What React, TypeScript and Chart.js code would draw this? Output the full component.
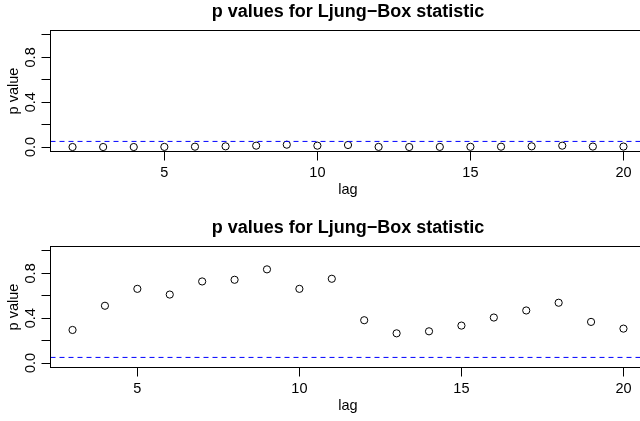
import React, { useEffect, useRef } from 'react';
import { Chart, registerables } from 'chart.js';

Chart.register(...registerables);

// ---- data ----
const lagsTop = [2, 3, 4, 5, 6, 7, 8, 9, 10, 11, 12, 13, 14, 15, 16, 17, 18, 19, 20];
const pvalsTop = [0.0, 0.0, 0.0, 0.001, 0.003, 0.006, 0.012, 0.021, 0.012, 0.018, 0.001, 0.0, 0.001, 0.002, 0.003, 0.006, 0.012, 0.004, 0.004];

const lagsBottom = [3, 4, 5, 6, 7, 8, 9, 10, 11, 12, 13, 14, 15, 16, 17, 18, 19, 20];
const pvalsBottom = [0.295, 0.511, 0.662, 0.611, 0.728, 0.743, 0.836, 0.662, 0.752, 0.382, 0.265, 0.283, 0.334, 0.406, 0.469, 0.538, 0.367, 0.307];

const xTickValues = [5, 10, 15, 20];
const yTickValues = [0, 0.2, 0.4, 0.6, 0.8, 1.0];
const yTickLabels = ['0.0', '', '0.4', '', '0.8', ''];
const significance = 0.05;

const titleText = 'p values for Ljung\u2212Box statistic';
const xLabel = 'lag';
const yLabel = 'p value';

const FAMILY = "'Liberation Sans', Arial, Helvetica, sans-serif";
const CANVAS_W = 660;
const CANVAS_H = 204;

function Panel({ lags, pvals, top }: { lags: number[]; pvals: number[]; top: number }) {
  const ref = useRef<HTMLCanvasElement | null>(null);

  useEffect(() => {
    if (!ref.current) return;
    const lo = Math.min(...lags);
    const hi = Math.max(...lags);
    const ext = (hi - lo) * 0.04;
    const xMin = lo - ext;
    const xMax = hi + ext;

    const boxPlugin = {
      id: 'rbox',
      afterDraw(chart: any) {
        const { ctx, chartArea: a } = chart;
        ctx.save();
        ctx.strokeStyle = '#000';
        ctx.lineWidth = 1;
        ctx.strokeRect(a.left, a.top, a.right - a.left, a.bottom - a.top);
        ctx.restore();
      },
    };

    const font = { family: FAMILY, size: 14.5 };

    const chart = new Chart(ref.current, {
      type: 'scatter',
      data: {
        datasets: [
          {
            type: 'line',
            data: [
              { x: xMin, y: significance },
              { x: xMax, y: significance },
            ],
            borderColor: '#0000FF',
            borderWidth: 1,
            borderDash: [5, 4],
            pointRadius: 0,
            fill: false,
          } as any,
          {
            type: 'scatter',
            data: lags.map((l, i) => ({ x: l, y: pvals[i] })),
            pointStyle: 'circle',
            pointRadius: 3.6,
            pointHoverRadius: 3.6,
            borderColor: '#000',
            backgroundColor: 'rgba(0,0,0,0)',
            borderWidth: 1,
          },
        ],
      },
      options: {
        responsive: false,
        animation: false,
        devicePixelRatio: 1,
        events: [],
        layout: { padding: { top: 0, left: 0, right: CANVAS_W - 645.5, bottom: 0 } },
        plugins: {
          legend: { display: false },
          tooltip: { enabled: false },
          title: {
            display: true,
            text: titleText,
            fullSize: false,
            color: '#000',
            font: { family: FAMILY, size: 18, weight: 'bold' },
            padding: { top: 1.2, bottom: 7.7 },
          },
        },
        scales: {
          x: {
            type: 'linear',
            min: xMin,
            max: xMax,
            afterBuildTicks: (s: any) => {
              s.ticks = xTickValues.map((v) => ({ value: v }));
            },
            afterFit: (s: any) => {
              s.height = 52.5;
            },
            grid: { display: true, drawOnChartArea: false, drawTicks: true, tickLength: 9, color: '#000', lineWidth: 1 },
            border: { display: false },
            ticks: {
              font,
              color: '#000',
              padding: 4.2,
              maxRotation: 0,
              autoSkip: false,
              callback: (v: any) => String(v),
            },
            title: { display: true, text: xLabel, font, color: '#000', padding: { top: 0, bottom: 5.5 } },
          },
          y: {
            type: 'linear',
            min: -0.04,
            max: 1.04,
            afterBuildTicks: (s: any) => {
              s.ticks = yTickValues.map((v) => ({ value: v }));
            },
            afterFit: (s: any) => {
              s.width = 50.5;
            },
            grid: { display: true, drawOnChartArea: false, drawTicks: true, tickLength: 9, color: '#000', lineWidth: 1 },
            border: { display: false },
            ticks: {
              font,
              color: '#000',
              padding: 0,
              minRotation: 90,
              maxRotation: 90,
              crossAlign: 'center',
              autoSkip: false,
              callback: (_v: any, i: number) => yTickLabels[i],
            },
            title: { display: true, text: yLabel, font, color: '#000', padding: { top: 5.3, bottom: 0 } },
          },
        },
      },
      plugins: [boxPlugin],
    } as any);

    return () => chart.destroy();
  }, [lags, pvals]);

  return (
    <canvas
      ref={ref}
      width={CANVAS_W}
      height={CANVAS_H}
      style={{ position: 'absolute', left: 0, top, width: CANVAS_W, height: CANVAS_H, display: 'block' }}
    />
  );
}

export default function App() {
  return (
    <div
      style={{
        position: 'fixed',
        left: 0,
        top: 0,
        width: 640,
        height: 421,
        overflow: 'hidden',
        background: '#fff',
      }}
    >
      <Panel lags={lagsTop} pvals={pvalsTop} top={0} />
      <Panel lags={lagsBottom} pvals={pvalsBottom} top={216} />
    </div>
  );
}
